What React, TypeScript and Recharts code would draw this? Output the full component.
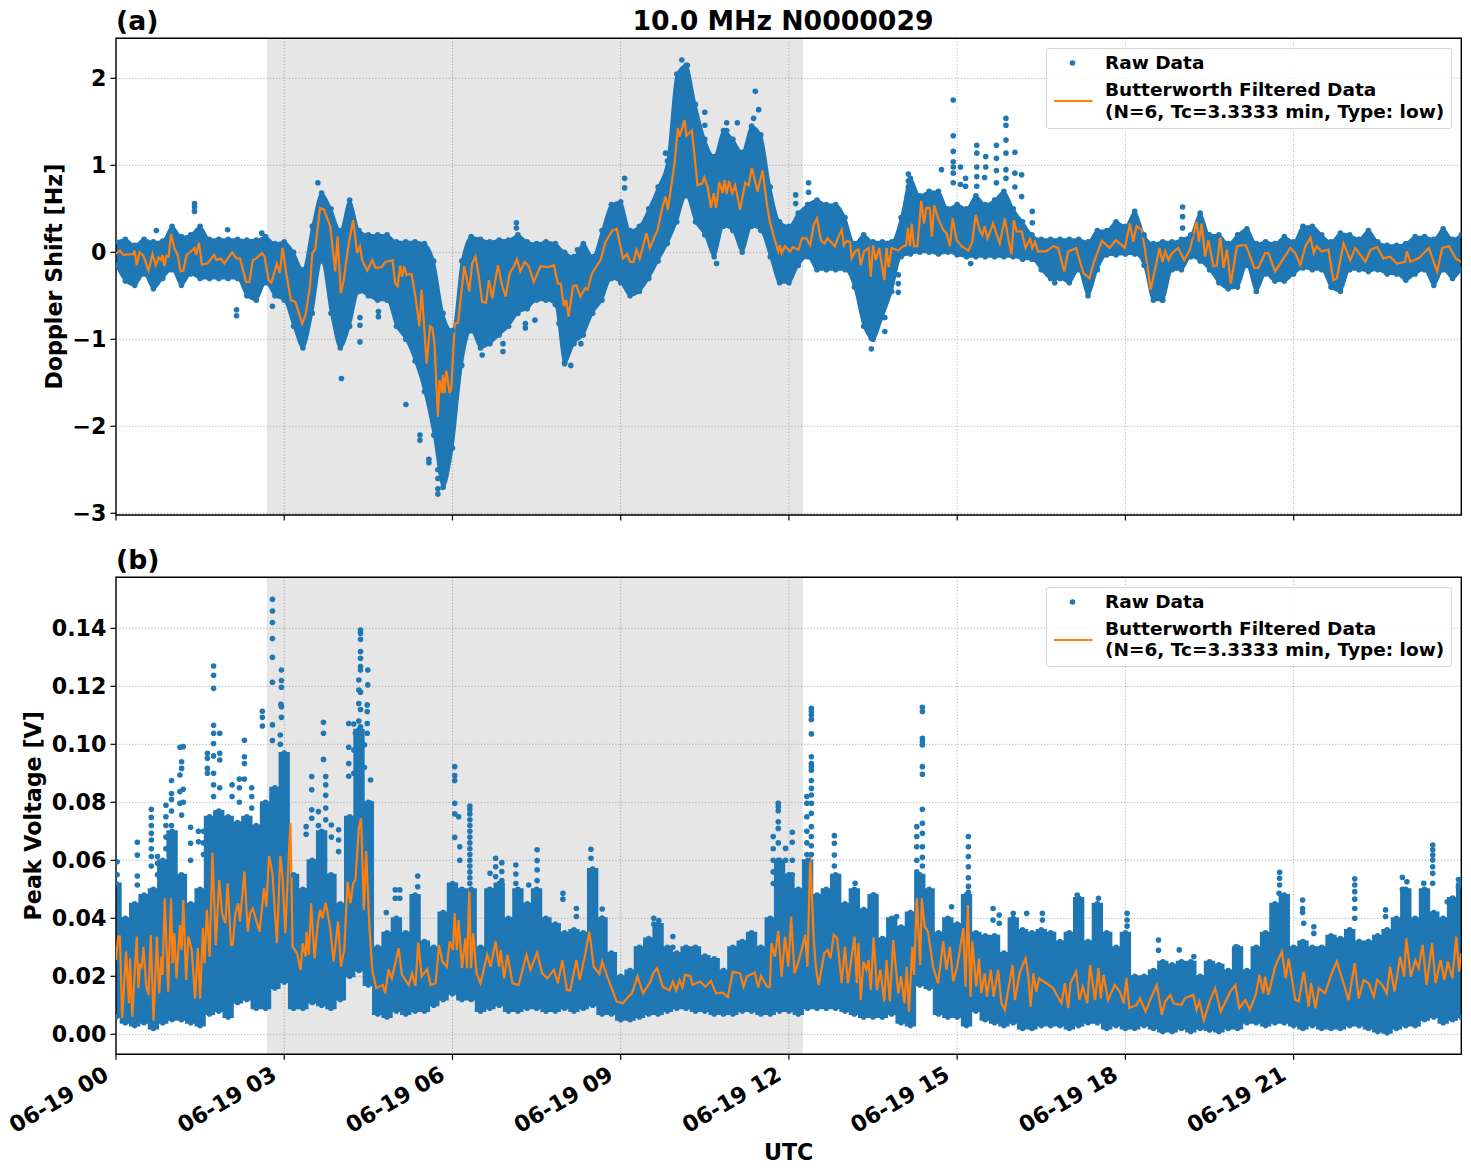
import React from 'react';
import { ComposedChart, Area, Line, Scatter, XAxis, YAxis, CartesianGrid, ReferenceArea } from 'recharts';

const BLUE = '#1f77b4';
const ORANGE = '#ff7f0e';
const FONT = '"DejaVu Sans", sans-serif';
const hourTicks = [0, 3, 6, 9, 12, 15, 18, 21];
const tickLabels = ['06-19 00', '06-19 03', '06-19 06', '06-19 09', '06-19 12', '06-19 15', '06-19 18', '06-19 21'];
const dopplerTicks = [-3, -2, -1, 0, 1, 2];
const voltageTicks = [0, 0.02, 0.04, 0.06, 0.08, 0.1, 0.12, 0.14];
const lastHour = 23.99;
const shade = [2.69, 12.25];

// raw-data envelope, one value every ten minutes
const dopplerHigh = [.12,.15,.08,.15,.12,.13,.3,.18,.2,.3,.15,.15,.15,.15,.14,.14,.18,.1,.12,0,-.2,.3,.68,.5,.25,.6,.25,.2,.2,.2,.12,.12,.12,.1,-.1,-.7,-.9,-.1,.18,.15,.12,.14,.14,.2,.12,.1,.12,.1,
0,-.05,.1,-.05,.25,.55,.58,.25,.3,.5,.75,1.05,2.05,2.15,1.7,1.3,1.1,1.4,1.3,1.15,1.45,1.35,.75,.35,.3,.45,.55,.6,.55,.55,.4,.1,.2,.12,.12,.12,.4,.85,.65,.7,.7,.5,.55,.5,.65,.55,.6,.7,
.5,.35,.2,.15,.15,.15,.15,.15,.12,.25,.25,.35,.3,.47,.2,.1,.12,.12,.15,.2,.45,.2,.2,.1,.2,.27,.1,.12,.1,.18,.12,.3,.3,.2,.12,.22,.2,.15,.25,.12,.08,.08,.1,.18,.18,.15,.27,.15,.2];
const dopplerLow = [-.15,-.33,-.38,-.25,-.42,-.3,-.2,-.38,-.25,-.3,-.3,-.3,-.3,-.3,-.5,-.55,-.35,-.5,-.55,-.85,-1.1,-.7,-.1,-.7,-1.1,-.85,-.45,-.5,-.55,-.55,-.85,-1,-1.25,-1.6,-2.1,-2.7,-2.25,-1.3,-.9,-1.1,-1.05,-.95,-.85,-.7,-.65,-.55,-.55,-.6,
-1.28,-1.05,-.95,-.7,-.55,-.3,-.35,-.5,-.45,-.3,-.1,.1,.35,.65,.35,.2,-.05,.3,.25,0,.3,.25,-.05,-.35,-.35,-.15,-.05,-.2,-.2,-.2,-.2,-.4,-.85,-1,-.75,-.45,-.05,-.02,0,0,-.02,0,-.03,-.05,-.05,-.05,-.05,-.05,
-.05,-.08,-.08,-.2,-.3,-.3,-.35,-.2,-.5,-.2,-.03,-.03,-.02,-.02,-.15,-.55,-.55,-.2,-.2,-.05,-.1,-.2,-.35,-.42,-.4,-.15,-.45,-.25,-.33,-.33,-.25,-.18,-.2,-.2,-.4,-.45,-.2,-.2,-.22,-.2,-.25,-.25,-.32,-.25,-.2,-.38,-.2,-.3,-.2];
const voltageHigh = [.052,.04,.045,.048,.05,.06,.07,.055,.045,.05,.075,.077,.075,.073,.075,.072,.08,.085,.097,.055,.05,.06,.07,.055,.045,.075,.105,.08,.03,.035,.04,.035,.048,.032,.03,.042,.052,.05,.05,.03,.05,.052,.04,.05,.045,.05,.04,.038,
.035,.036,.035,.057,.04,.028,.02,.022,.03,.033,.038,.03,.028,.03,.03,.027,.026,.022,.03,.032,.035,.03,.04,.06,.055,.05,.06,.048,.05,.055,.045,.05,.043,.048,.033,.04,.037,.042,.055,.05,.035,.04,.038,.048,.035,.034,.034,.028,
.04,.036,.035,.036,.035,.032,.035,.047,.032,.045,.035,.03,.035,.02,.02,.022,.025,.024,.025,.025,.02,.025,.024,.022,.03,.022,.03,.035,.045,.048,.03,.032,.03,.03,.034,.033,.036,.032,.032,.034,.036,.04,.05,.04,.05,.042,.04,.047,.052];
const voltageLow = [.006,.004,.003,.004,.002,.004,.005,.005,.004,.003,.007,.008,.006,.011,.012,.009,.009,.016,.018,.009,.009,.011,.01,.009,.012,.02,.022,.017,.007,.006,.008,.007,.008,.008,.01,.012,.014,.012,.012,.008,.009,.01,.008,.008,.009,.009,.008,.008,
.009,.008,.009,.01,.007,.007,.005,.005,.006,.007,.007,.008,.009,.009,.008,.008,.007,.007,.007,.008,.008,.007,.007,.008,.008,.007,.009,.009,.009,.009,.008,.007,.006,.006,.006,.007,.004,.003,.017,.016,.007,.006,.006,.003,.008,.005,.004,.003,
.004,.002,.002,.003,.003,.003,.002,.003,.004,.004,.002,.003,.002,.002,.003,.002,.001,.001,.002,.001,.002,.0015,.001,.002,.002,.004,.004,.003,.004,.004,.003,.002,.003,.002,.002,.002,.003,.003,.002,.001,.0005,.002,.003,.003,.005,.006,.004,.005,.006];

// isolated raw points outside the dense band: [hour, values at that hour]
const dopplerStems: [number, number[]][] = [
[1.4,[.56,.52,.47]],[.72,[.25]],[1.99,[.26]],[2.6,[.22]],[2.15,[-.66,-.73]],[2.79,[-.62]],[3.6,[.8]],[4.02,[-1.45]],[4.35,[-1.03,-.84,-.75]],[4.68,[-.74,-.68]],[5.17,[-1.75]],[5.42,[-2.16,-2.1]],[5.58,[-2.42,-2.38]],[5.74,[-2.78,-2.72,-2.6,-2.5]],[5.86,[-2.4]],[6.53,[-1.18]],[6.9,[-1.14,-1.05]],[7.3,[-.87,-.82]],[7.14,[.34,.28]],[7.47,[-.78]],[7.9,[-.82]],
[10.09,[2.21]],[10.19,[2.15]],[10.5,[1.61,1.46]],[10.89,[1.49,1.4]],[11.08,[1.49]],[11.4,[1.85]],[11.46,[1.64]],[11.37,[1.54]],[9.07,[.85,.74]],[9.8,[1.14]],[8.23,[.03]],[8.29,[-1.05]],[8,[-1.27]],[8.11,[-1.3]],[10.71,[-.13]],[12.35,[.8,.69]],[12.12,[.66,.56]],[13.47,[-1.11,-.99]],[13.71,[-.91,-.75]],[13.95,[-.46,-.36,-.26]],[14.13,[.9,.82,.75,.68]],
[14.93,[1.75,1.34,1.16,1.04,.98,.91,.8]],[14.72,[.95]],[15.06,[.98,.78]],[15.15,[.85,.76]],[15.35,[1.23,1.14,.98,.87,.76]],[15.51,[1.1,.98]],[15.49,[.86]],[15.7,[1.23,1.08,.94,.8]],[15.87,[1.54,1.46,1.29,1.14,.95,.85]],[15.24,[-.13]],[16.03,[1.15,.91,.75]],[16.15,[.89,.64]],[16.34,[.47,.34]],[16.74,[-.3,-.35]],[19.02,[.52,.41,.28]],[18.66,[-.55,-.48]]];
const voltageStems: [number, number[]][] = [
[2.79,[.15,.146,.142,.1365,.13,.1214,.1067,.1013]],[2.95,[.1256,.122,.1197,.113,.1093]],[2.94,[.1138]],[2.93,[.1032,.1]],
[1.74,[.127,.1238,.1193,.1066,.1038,.1003,.096,.09,.086,.082]],[1.85,[.1038,.0969,.0946,.085]],[1.63,[.0969,.0952,.0917,.09]],[2.61,[.1114,.1093,.1063]],[2.29,[.1014,.0957,.0934,.088]],
[1.2,[.0992,.0845,.08]],[1.14,[.099,.0894,.0837,.0797]],[1.17,[.094,.0917,.0756]],[.99,[.0875,.083,.081,.077,.072]],[.89,[.079,.075,.072,.068,.064]],[.63,[.0776,.0748,.072,.0693,.067,.064,.0613,.058]],[.38,[.0662,.0618,.0546,.0515]],[.02,[.0595,.055]],[1.33,[.0714,.0659,.06]],[1.47,[.07,.0664]],[.74,[.0613,.059,.055]],[1.56,[.07,.066,.062]],[2.07,[.086,.082]],[2.2,[.088,.085,.08]],[2.42,[.085,.082,.078]],
[3.7,[.1076,.1038,.0948]],[3.74,[.0889,.086,.0824,.078,.074]],[3.49,[.0889,.0843,.0774,.0745]],[3.39,[.0716,.069]],[3.61,[.0768,.072]],[3.84,[.0722,.068]],[3.97,[.0705,.067,.063]],[4.15,[.1072,.099,.0934,.089]],
[4.36,[.1394,.1383,.1362,.132,.1297,.1268,.1256,.118,.112,.106,.1]],[4.49,[.1256,.1205]],[4.33,[.1222,.1187,.1141,.108,.1]],[4.48,[.1136,.1113,.1072,.1038]],[4.54,[.0877,.0797]],[4.24,[.107,.098,.09]],[4.27,[.1038]],[4.43,[.0998,.092]],
[5.38,[.0546,.0509,.0469]],[4.98,[.0498,.0469]],[5.06,[.0498,.0469]],[4.82,[.042]],[6.04,[.0923,.0892,.0875,.0797,.076,.0679]],[6.11,[.075]],[6.31,[.0787,.0775,.076,.074,.072,.07,.068,.066,.064,.062,.06,.058,.056,.054,.052]],[6.13,[.0647,.06]],[6.77,[.0607,.0578,.0544]],[6.88,[.0592,.0561,.053]],[6.67,[.0555]],[7.13,[.0584,.0553,.052]],[7.51,[.0636,.0599,.0567,.053]],[7.36,[.0515]],
[8.47,[.0638,.0607]],[8.45,[.0561]],[7.97,[.0486,.0466]],[8.67,[.0432,.04]],[8.21,[.0434,.0406]],[9.59,[.04,.038]],[9.68,[.0392,.036]],[9.93,[.0337,.03]],
[11.81,[.0797,.0785,.0771,.0733,.071,.066,.06]],[11.72,[.0682,.064,.06,.056,.052]],[12.06,[.0697,.0662,.06,.055]],[11.94,[.0641,.06]],[12.81,[.0685,.0659,.0618,.058]],
[12.4,[.1124,.1113,.1101,.1086,.1036,.0957,.0934,.0923,.0911,.0875,.0848,.0825,.0797,.0762,.0716,.0682,.065,.062]],[12.32,[.082,.0797,.075,.07,.066,.062]],
[14.38,[.1128,.1113,.1021,.1009,.0998,.0923,.0897,.0776,.0728,.0693,.0647,.061,.058]],[14.28,[.0716,.0682,.0647,.06,.056]],[15.2,[.0682,.0647,.0613,.0578,.054,.051,.049]],[15.64,[.0434,.0394]],[15.75,[.0411,.0383]],[14.9,[.044]],[13.18,[.0521,.0492]],[13.52,[.048,.0452]],[13.92,[.0406]],
[17.14,[.048,.0452,.0406]],[17.52,[.0469,.044]],[16,[.0417]],[16.24,[.0417]],[16.52,[.0417,.0394]],[18.03,[.0417,.0394,.0373]],[18.59,[.0325,.029]],[18.96,[.0291]],[19.22,[.0268]],[19.97,[.0302]],[20.75,[.0559,.0538,.0515]],[20.74,[.0486]],[21.16,[.0463,.0434,.042]],[21.18,[.0383]],[21.36,[.0371,.0348]],[22.09,[.0536,.0515,.0492,.0466,.0434,.04]],[22.64,[.0429,.0406]],[22.94,[.0541,.05]],[23.02,[.0526,.048]],[23.32,[.0521,.048]],[23.48,[.0653,.0636,.0618,.0601,.0578,.0555,.0521]],[23.94,[.0534,.0509]],[23.74,[.0457]],[4.36,[.095,.09]],[4.3,[.095,.09]]];

// low-pass filtered trace: [hour, value] at its turning points
const dopplerFiltered: [number, number][] = [
[0,-.02],[.07,.02],[.13,-.03],[.31,-.02],[.33,.02],[.37,-.15],[.42,0],[.49,-.04],[.58,-.21],[.65,-.02],[.71,-.15],[.76,-.06],[.8,-.09],[.83,-.03],[.86,-.16],[.9,-.04],[.94,-.05],[.98,.21],[1.04,.05],[1.1,-.03],[1.15,-.22],[1.2,-.21],[1.26,-.03],[1.32,0],[1.4,.05],[1.43,-.03],[1.48,.11],[1.53,-.14],[1.63,-.13],[1.75,-.03],[1.79,-.09],[1.87,-.07],[1.93,-.13],[2.07,0],[2.15,-.07],[2.21,-.07],[2.32,-.34],[2.38,-.34],[2.44,-.09],[2.5,-.07],[2.6,-.01],[2.65,-.05],[2.72,-.32],[2.77,-.35],[2.87,-.13],[2.92,-.24],[2.97,.05],[3.04,-.26],[3.12,-.55],[3.2,-.57],[3.32,-.82],[3.38,-.72],[3.46,-.39],[3.5,-.01],[3.55,.03],[3.64,.51],[3.71,.49],[3.82,.3],[3.91,-.22],[3.95,.18],[4.01,-.47],[4.06,-.32],[4.15,.1],[4.23,.37],[4.3,-.01],[4.35,.07],[4.39,-.09],[4.48,-.21],[4.57,-.09],[4.63,-.18],[4.74,-.17],[4.8,-.11],[4.93,-.09],[4.98,-.36],[5.02,-.39],[5.07,-.15],[5.1,-.28],[5.14,-.16],[5.18,-.26],[5.27,-.25],[5.34,-.51],[5.41,-.85],[5.45,-.43],[5.54,-1.28],[5.6,-.85],[5.64,-.87],[5.68,-1.05],[5.74,-1.89],[5.77,-1.47],[5.81,-1.62],[5.83,-1.41],[5.86,-1.62],[5.89,-1.36],[5.95,-1.62],[5.98,-1.56],[6.04,-.82],[6.1,-.81],[6.21,-.16],[6.3,-.45],[6.35,-.13],[6.41,-.05],[6.47,-.28],[6.53,-.57],[6.6,-.58],[6.65,-.32],[6.71,-.53],[6.81,-.15],[6.89,-.39],[6.95,-.51],[7.02,-.24],[7.1,-.16],[7.15,-.08],[7.21,-.22],[7.29,-.11],[7.36,-.16],[7.45,-.34],[7.57,-.16],[7.69,-.17],[7.81,-.15],[7.88,-.36],[7.93,-.36],
[7.99,-.62],[8.03,-.55],[8.07,-.74],[8.15,-.39],[8.21,-.38],[8.28,-.51],[8.37,-.41],[8.41,-.43],[8.49,-.24],[8.64,-.09],[8.73,.12],[8.85,.25],[8.93,.27],[9.04,-.07],[9.11,-.02],[9.17,-.11],[9.23,-.11],[9.28,.03],[9.34,-.07],[9.46,.22],[9.52,.05],[9.59,.16],[9.66,.26],[9.74,.51],[9.8,.64],[9.84,.49],[9.96,1.02],[10.02,1.43],[10.05,1.33],[10.14,1.52],[10.17,1.34],[10.27,1.4],[10.37,.77],[10.45,.79],[10.49,.86],[10.55,.75],[10.61,.51],[10.66,.68],[10.7,.51],[10.76,.81],[10.82,.68],[10.85,.83],[10.89,.67],[10.93,.82],[10.99,.68],[11.04,.77],[11.13,.49],[11.22,.8],[11.28,.77],[11.34,.97],[11.44,.7],[11.53,.94],[11.61,.54],[11.66,.35],[11.74,.16],[11.81,.01],[11.84,.08],[11.87,-.01],[11.93,.07],[12.02,.01],[12.07,.06],[12.17,.03],[12.23,.16],[12.31,.16],[12.38,.08],[12.44,.31],[12.5,.39],[12.57,.14],[12.63,.1],[12.69,.16],[12.82,.07],[12.86,.14],[12.94,.26],[12.98,.08],[13.03,.13],[13.09,.12],[13.12,-.07],[13.18,.01],[13.24,.03],[13.28,-.15],[13.34,.01],[13.42,.05],[13.46,-.28],[13.5,.08],[13.55,-.09],[13.61,.05],[13.7,-.32],[13.74,.05],[13.78,-.17],[13.83,.05],[13.95,.02],[14.04,.07],[14.09,.08],[14.12,.28],[14.16,.07],[14.19,.33],[14.23,.07],[14.29,.07],[14.36,.59],[14.41,.33],[14.45,.51],[14.51,.51],[14.55,.18],[14.59,.54],[14.66,.39],[14.75,.26],[14.81,.22],[14.87,.07],[14.92,.39],[14.99,.14],[15.08,.07],[15.2,.02],[15.27,.12],[15.33,.43],[15.4,.26],[15.45,.2],[15.49,.3],[15.54,.16],[15.64,.33],[15.76,.1],[15.85,.39],[15.91,.16],
[15.97,-.03],[16.01,.37],[16.06,.24],[16.15,.24],[16.22,.05],[16.3,.16],[16.34,.05],[16.39,.12],[16.44,.01],[16.59,.01],[16.71,.07],[16.8,.05],[16.91,-.22],[16.98,.01],[17.12,.05],[17.25,-.24],[17.36,-.3],[17.43,-.13],[17.58,.13],[17.72,.05],[17.83,.14],[17.99,.05],[18.08,.33],[18.14,.12],[18.2,.3],[18.29,.26],[18.35,.03],[18.45,-.43],[18.61,.05],[18.66,-.11],[18.71,.01],[18.77,-.09],[18.83,-.01],[18.94,.05],[19.05,-.09],[19.15,.03],[19.27,.35],[19.31,.12],[19.36,.33],[19.42,-.05],[19.48,.14],[19.57,-.16],[19.63,-.15],[19.69,.18],[19.75,-.18],[19.81,.03],[19.88,-.36],[19.99,.07],[20.06,.08],[20.15,.08],[20.3,-.18],[20.37,-.18],[20.49,-.01],[20.55,-.01],[20.67,-.22],[20.82,-.07],[20.94,.05],[21.03,-.01],[21.12,-.15],[21.21,.07],[21.3,.17],[21.36,-.01],[21.41,.07],[21.5,.01],[21.62,.03],[21.71,-.32],[21.77,-.3],[21.89,.1],[22.01,-.09],[22.1,.05],[22.28,-.11],[22.37,.03],[22.49,.06],[22.6,-.07],[22.72,-.05],[22.84,-.13],[22.99,-.11],[23.02,.01],[23.08,-.11],[23.23,-.07],[23.41,.05],[23.56,-.22],[23.65,.05],[23.77,.07],[23.89,-.07],[23.99,-.11]];
const voltageFiltered: [number, number][] = [
[0,.0256],[.04,.0337],[.07,.0337],[.11,.0055],[.18,.0285],[.23,.0107],[.25,.0262],[.29,.0061],[.37,.0337],[.4,.0159],[.43,.0239],[.46,.0233],[.49,.0302],[.54,.0164],[.58,.0136],[.62,.0343],[.67,.0047],[.73,.0337],[.77,.0141],[.81,.0268],[.83,.0205],[.87,.0469],[.93,.0147],[.98,.0469],[1.01,.0245],[1.04,.0348],[1.08,.0193],[1.14,.0377],[1.17,.0291],[1.2,.0463],[1.25,.0187],[1.29,.0337],[1.35,.0291],[1.41,.0124],[1.46,.0297],[1.5,.0124],[1.55,.0366],[1.58,.0245],[1.62,.0429],[1.67,.0268],[1.72,.0626],[1.78,.0308],[1.84,.0532],[1.89,.0417],[1.95,.0383],[1.99,.0521],[2.05,.0308],[2.08,.0308],[2.13,.0417],[2.18,.0452],[2.21,.0389],[2.29,.0561],[2.35,.0354],[2.39,.0417],[2.44,.0434],[2.56,.0354],[2.6,.0429],[2.64,.0503],[2.68,.044],[2.73,.0615],[2.79,.0555],[2.87,.0314],[2.93,.0615],[2.97,.0544],[3.02,.0348],[3.06,.0532],[3.11,.0728],[3.15,.0302],[3.23,.0279],[3.29,.0222],[3.33,.0314],[3.38,.0268],[3.4,.0354],[3.44,.0274],[3.48,.0452],[3.54,.0262],[3.6,.0383],[3.64,.0429],[3.68,.04],[3.74,.0454],[3.82,.0366],[3.88,.0251],[3.96,.0389],[4.01,.0233],[4.07,.0291],[4.13,.0526],[4.18,.0452],[4.23,.0521],[4.27,.0532],[4.33,.071],[4.37,.0745],[4.42,.0429],[4.46,.0632],[4.52,.0366],[4.57,.0222],[4.64,.0159],[4.76,.017],[4.8,.0141],[4.86,.0224],[4.92,.0193],[5.04,.0297],[5.1,.0205],[5.22,.017],[5.28,.021],[5.34,.0167],[5.39,.0316],[5.45,.0199],[5.55,.0225],[5.61,.017],[5.7,.0176],[5.76,.0308],[5.82,.0251],[5.9,.0233],[5.95,.032],[6.01,.0291],[6.04,.0417],[6.08,.0291],[6.11,.0394],[6.17,.0228],[6.23,.0331],[6.26,.0228],[6.3,.0503],[6.33,.0228],[6.37,.0348],[6.43,.021],[6.5,.0176],[6.62,.0274],[6.68,.0233],[6.77,.032],[6.83,.0233],[6.86,.0291],[6.92,.0193],[6.98,.0274],[7.07,.0176],[7.18,.017],[7.32,.0274],[7.39,.0222],[7.51,.0282],[7.6,.021],[7.69,.0193],[7.81,.0222],[7.88,.0176],
[7.96,.0256],[8.04,.0153],[8.1,.0151],[8.21,.0256],[8.27,.0187],[8.37,.0279],[8.44,.0354],[8.52,.0233],[8.62,.0208],[8.67,.0251],[8.76,.0199],[8.93,.0113],[9.04,.0107],[9.14,.013],[9.2,.0141],[9.3,.0199],[9.4,.0141],[9.53,.0182],[9.58,.021],[9.65,.0228],[9.75,.0164],[9.87,.0151],[9.93,.0182],[9.99,.0151],[10.05,.0187],[10.1,.0162],[10.15,.0205],[10.24,.0201],[10.28,.017],[10.42,.0182],[10.51,.0164],[10.61,.0184],[10.7,.0141],[10.82,.0144],[10.91,.0128],[11,.0216],[11.13,.021],[11.19,.0164],[11.25,.0199],[11.39,.0213],[11.45,.0162],[11.5,.0201],[11.61,.0164],[11.66,.0164],[11.69,.0314],[11.75,.0268],[11.81,.0357],[11.87,.0199],[11.93,.0337],[11.99,.0233],[12.04,.0406],[12.1,.021],[12.17,.0251],[12.24,.0302],[12.29,.0343],[12.33,.0233],[12.38,.0615],[12.44,.0337],[12.48,.0233],[12.53,.017],[12.63,.0279],[12.69,.0291],[12.74,.0262],[12.8,.0343],[12.86,.0331],[12.94,.0176],[13,.0302],[13.05,.0176],[13.17,.0337],[13.21,.0176],[13.24,.0314],[13.28,.0118],[13.33,.0251],[13.38,.0222],[13.42,.0256],[13.46,.0153],[13.51,.0334],[13.57,.0153],[13.63,.0222],[13.7,.0113],[13.74,.0256],[13.8,.0113],[13.86,.0325],[13.95,.0141],[14,.02],[14.06,.0107],[14.1,.0233],[14.14,.0078],[14.2,.0302],[14.23,.0205],[14.28,.0469],[14.34,.0239],[14.37,.0469],[14.42,.0371],[14.48,.0354],[14.57,.0233],[14.66,.0176],[14.75,.032],[14.81,.0222],[14.87,.0302],[14.93,.0182],[15,.0233],[15.11,.0366],[15.15,.0164],[15.19,.0446],[15.24,.013],[15.27,.032],[15.34,.0164],[15.39,.0262],[15.43,.0141],[15.49,.021],[15.53,.013],[15.6,.0222],[15.65,.013],[15.73,.0222],[15.79,.0107],[15.85,.0084],[15.91,.0153],
[15.99,.0239],[16.03,.0118],[16.12,.0216],[16.22,.0262],[16.27,.02],[16.31,.0095],[16.36,.021],[16.41,.0147],[16.46,.0193],[16.59,.0176],[16.71,.0159],[16.86,.0107],[16.92,.0176],[16.98,.009],[17.02,.0176],[17.12,.0216],[17.18,.0118],[17.24,.0164],[17.32,.0107],[17.37,.0239],[17.46,.0118],[17.52,.0228],[17.56,.0124],[17.61,.0205],[17.69,.0118],[17.81,.017],[17.9,.0147],[17.97,.0107],[18.02,.0193],[18.07,.009],[18.2,.0101],[18.26,.0124],[18.36,.0078],[18.44,.0118],[18.56,.017],[18.65,.0067],[18.71,.0113],[18.8,.0136],[18.86,.0107],[19,.0101],[19.06,.0124],[19.21,.0136],[19.27,.0084],[19.32,.0113],[19.4,.0049],[19.51,.0118],[19.6,.0159],[19.7,.0078],[19.87,.0147],[19.96,.017],[20.03,.009],[20.14,.0118],[20.22,.0084],[20.33,.0141],[20.39,.0205],[20.46,.0141],[20.49,.0199],[20.55,.0136],[20.67,.0233],[20.79,.0285],[20.86,.0193],[20.91,.0262],[21.03,.0118],[21.09,.0113],[21.18,.0216],[21.27,.0095],[21.31,.0176],[21.39,.009],[21.45,.0159],[21.56,.0141],[21.68,.021],[21.77,.0251],[21.89,.0176],[21.98,.0118],[22.09,.0245],[22.16,.0124],[22.25,.0187],[22.34,.0176],[22.43,.013],[22.49,.0187],[22.58,.017],[22.66,.0141],[22.72,.0233],[22.8,.0147],[22.9,.0268],[22.97,.0199],[23.01,.0331],[23.09,.0199],[23.17,.0256],[23.23,.0228],[23.3,.0308],[23.37,.017],[23.47,.0314],[23.53,.0176],[23.62,.0256],[23.69,.0187],[23.75,.0251],[23.83,.0193],[23.9,.0337],[23.95,.0216],[23.99,.0279]];

const hourOf = (i: number) => Math.min(i / 6, lastHour);
const band = (high: number[], low: number[]) => high.map((v, i) => ({ h: hourOf(i), range: [low[i], v] }));
const scatterPoints = (high: number[], low: number[], stems: [number, number[]][]) => [
  ...high.map((v, i) => ({ h: hourOf(i), v })),
  ...low.map((v, i) => ({ h: hourOf(i), v })),
  ...stems.flatMap(([h, vs]) => vs.map((v) => ({ h, v }))),
];
const traceRows = (rows: [number, number][]) => rows.map(([h, f]) => ({ h, f }));

const Dot = (p: any) => <circle cx={p.cx} cy={p.cy} r={2.8} fill={BLUE} />;

const tickStyle = { fontFamily: FONT, fontWeight: 700, fontSize: 22.2, fill: '#000' };
const labelStyle = { fontFamily: FONT, fontWeight: 700, fontSize: 22.2, fill: '#000' };

const XTick = (p: any) => (
  <text
    x={p.x - 6}
    y={p.y + 17}
    textAnchor="end"
    transform={`rotate(-30 ${p.x - 6} ${p.y + 17})`}
    style={tickStyle}
  >
    {tickLabels[hourTicks.indexOf(p.payload.value)]}
  </text>
);
const NoTick = () => <g />;

function Panel(props: {
  top: number; height: number; marginTop: number; axisHeight: number;
  domain: [number, number]; ticks: number[]; fmt: (v: number) => string;
  high: number[]; low: number[]; stems: [number, number[]][]; trace: [number, number][];
  yLabel: string; labelDx: number; showX: boolean; curve: any; edge: number;
}) {
  const p = props;
  return (
    <div style={{ position: 'absolute', left: 0, top: p.top }}>
      <ComposedChart width={1471} height={p.height} margin={{ top: p.marginTop, right: 9.7, bottom: 0, left: 0 }}>
        <ReferenceArea x1={shade[0]} x2={shade[1]} y1={p.domain[0]} y2={p.domain[1]} fill="#808080" fillOpacity={0.2} stroke="none" />
        <CartesianGrid stroke="#b0b0b0" strokeDasharray="1.2 2" strokeWidth={1} />
        <XAxis
          dataKey="h" type="number" domain={[0, lastHour]} ticks={hourTicks} allowDataOverflow
          height={p.axisHeight} interval={0} axisLine={false} tickSize={5.5}
          tickLine={{ stroke: '#000', strokeWidth: 1.2 }}
          tick={p.showX ? <XTick /> : <NoTick />}
          label={p.showX ? { value: 'UTC', position: 'center', dy: 39, style: labelStyle } : undefined}
        />
        <YAxis
          type="number" domain={p.domain} ticks={p.ticks} allowDataOverflow width={116} interval={0}
          axisLine={false} tickSize={5.5} tickMargin={4}
          tickLine={{ stroke: '#000', strokeWidth: 1.2 }}
          tick={tickStyle} tickFormatter={p.fmt}
          label={{ value: p.yLabel, angle: -90, position: 'center', dx: p.labelDx, style: labelStyle }}
        />
        <Area data={band(p.high, p.low)} dataKey="range" type={p.curve} fill={BLUE} fillOpacity={1} stroke={BLUE} strokeWidth={p.edge} isAnimationActive={false} dot={false} activeDot={false} />
        <Scatter data={scatterPoints(p.high, p.low, p.stems)} dataKey="v" shape={Dot} isAnimationActive={false} />
        <Line data={traceRows(p.trace)} dataKey="f" type="linear" stroke={ORANGE} strokeWidth={2.2} dot={false} activeDot={false} isAnimationActive={false} />
        <ReferenceArea x1={0} x2={lastHour} y1={p.domain[0]} y2={p.domain[1]} fill="none" stroke="#000" strokeWidth={1.4} />
      </ComposedChart>
    </div>
  );
}

function LegendBox({ top }: { top: number }) {
  return (
    <div style={{
      position: 'absolute', left: 1046, top, width: 406, height: 80.5, boxSizing: 'border-box',
      background: 'rgba(255,255,255,0.8)', border: '1.2px solid #d6d6d6', borderRadius: 3,
      fontFamily: FONT, fontWeight: 700, fontSize: 18.5, lineHeight: '21.5px', color: '#000',
    }}>
      <svg width={60} height={78} style={{ position: 'absolute', left: 0, top: 0 }}>
        <circle cx={25.5} cy={14} r={2.8} fill={BLUE} />
        <line x1={7} x2={45.5} y1={52} y2={52} stroke={ORANGE} strokeWidth={2.2} />
      </svg>
      <div style={{ position: 'absolute', left: 58, top: 3, whiteSpace: 'nowrap' }}>Raw Data</div>
      <div style={{ position: 'absolute', left: 58, top: 30, whiteSpace: 'nowrap' }}>
        Butterworth Filtered Data<br />(N=6, Tc=3.3333 min, Type: low)
      </div>
    </div>
  );
}

const overlayText = (left: number, top: number, size: number, text: string, center = false) => (
  <div style={{
    position: 'absolute', left, top, fontFamily: FONT, fontWeight: 700, fontSize: size, lineHeight: 1,
    color: '#000', whiteSpace: 'nowrap', transform: center ? 'translateX(-50%)' : undefined,
  }}>{text}</div>
);

export default function App() {
  return (
    <div style={{ position: 'absolute', left: 0, top: 0, width: 1471, height: 1172, background: '#fff', overflow: 'hidden' }}>
      <Panel top={0} height={560} marginTop={38.3} axisHeight={45} domain={[-3.02, 2.46]} ticks={dopplerTicks}
        fmt={(v) => (v < 0 ? `\u2212${-v}` : String(v))} high={dopplerHigh} low={dopplerLow} stems={dopplerStems}
        trace={dopplerFiltered} yLabel="Doppler Shift [Hz]" labelDx={-4} showX={false} curve="monotone" edge={2} />
      <Panel top={540} height={632} marginTop={37.3} axisHeight={117.7} domain={[-0.0069, 0.1576]} ticks={voltageTicks}
        fmt={(v) => v.toFixed(2)} high={voltageHigh} low={voltageLow} stems={voltageStems}
        trace={voltageFiltered} yLabel="Peak Voltage [V]" labelDx={-25} showX curve="step" edge={2} />
      {overlayText(116, 8, 26.7, '(a)')}
      {overlayText(116, 547, 26.7, '(b)')}
      {overlayText(783, 8, 26.7, '10.0 MHz N0000029', true)}
      <LegendBox top={48} />
      <LegendBox top={586.5} />
    </div>
  );
}
